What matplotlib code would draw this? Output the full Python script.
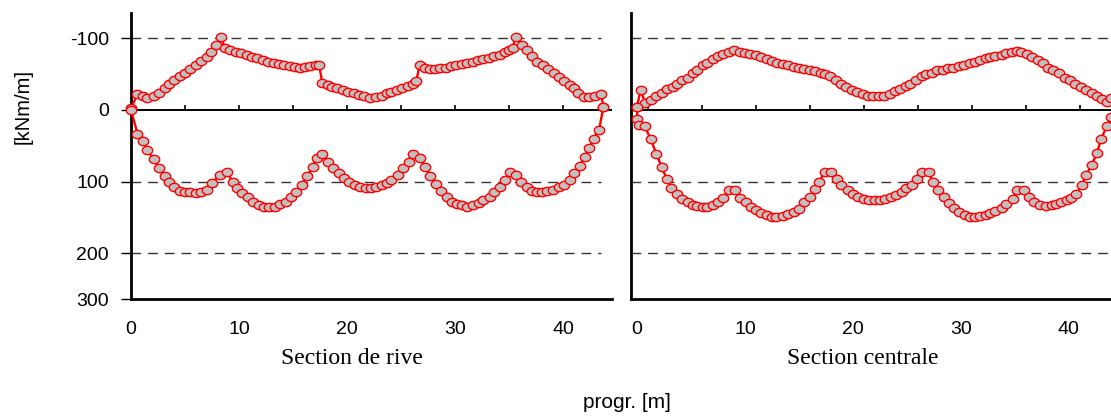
import matplotlib
matplotlib.use("Agg")
import numpy as np
import matplotlib.pyplot as plt

# --- Section de rive (left panel) ---
rive_top_x = [0.0, 0.6, 1.1, 1.5, 2.1, 2.6, 3.1, 3.5, 4.0, 4.5, 5.0, 5.5, 6.0, 6.5, 7.0, 7.4, 7.9, 8.3,
              8.7, 9.2, 9.7, 10.2, 10.7, 11.2, 11.7, 12.2, 12.7, 13.2, 13.7, 14.2, 14.7, 15.2, 15.6, 16.1,
              16.6, 17.1, 17.4, 17.7, 18.2, 18.6, 19.1, 19.6, 20.1, 20.6, 21.1, 21.6, 22.1, 22.7, 23.2,
              23.7, 24.1, 24.6, 25.1, 25.6, 26.1, 26.4, 26.7, 27.2, 27.7, 28.1, 28.6, 29.1, 29.6, 30.1,
              30.6, 31.1, 31.6, 32.1, 32.6, 33.1, 33.6, 34.1, 34.6, 35.0, 35.3, 35.6, 36.2, 36.6, 37.1,
              37.6, 38.1, 38.6, 39.1, 39.6, 40.1, 40.6, 41.0, 41.4, 41.9, 42.4, 42.9, 43.5, 43.7]
rive_top_y = [-2, -22, -19, -16, -20, -24, -30, -36, -41, -47, -52, -57, -62, -68, -74, -81, -90, -102,
              -86, -84, -81, -79, -77, -74, -72, -70, -67, -65, -64, -62, -61, -60, -59, -60,
              -61, -63, -63, -37, -35, -32, -30, -27, -25, -23, -21, -19, -17, -18, -20,
              -23, -25, -28, -30, -33, -36, -40, -63, -58, -57, -57, -58, -59, -61, -62,
              -64, -65, -67, -69, -71, -72, -75, -77, -80, -83, -86, -102, -91, -84, -75,
              -67, -63, -57, -51, -46, -40, -35, -30, -24, -18, -18, -19, -22, -4]

rive_bot_x = [0.0, 0.6, 1.1, 1.5, 2.1, 2.6, 3.1, 3.5, 4.0, 4.5, 5.0, 5.5, 6.0, 6.5, 7.0, 7.5, 8.2, 8.9,
              9.4, 9.8, 10.3, 10.8, 11.3, 11.8, 12.3, 12.8, 13.3, 13.8, 14.3, 14.8, 15.3, 15.8, 16.3,
              16.8, 17.2, 17.7, 18.2, 18.7, 19.2, 19.7, 20.2, 20.7, 21.2, 21.7, 22.2, 22.7, 23.2, 23.7,
              24.1, 24.7, 25.2, 25.7, 26.1, 26.7, 27.2, 27.7, 28.2, 28.7, 29.2, 29.7, 30.2, 30.6, 31.1,
              31.6, 32.2, 32.6, 33.2, 33.6, 34.1, 34.6, 35.1, 35.6, 36.1, 36.6, 37.1, 37.6, 38.0, 38.5,
              39.0, 39.6, 40.1, 40.6, 41.0, 41.5, 42.0, 42.4, 42.8, 43.3, 43.7]
rive_bot_y = [0, 33, 44, 56, 69, 81, 92, 101, 108, 113, 114, 115, 116, 115, 111, 102, 91, 87,
              100, 109, 116, 122, 128, 133, 135, 135, 135, 131, 128, 121, 114, 105, 92,
              80, 67, 62, 72, 81, 88, 95, 101, 105, 107, 109, 109, 107, 105, 102,
              98, 91, 81, 72, 61, 67, 79, 92, 103, 113, 121, 128, 131, 133, 135,
              133, 130, 126, 121, 115, 107, 98, 87, 91, 100, 107, 113, 114, 114, 113,
              112, 107, 105, 98, 88, 78, 65, 53, 40, 28, -4]

# --- Section centrale (right panel) ---
cent_top_x = [0.0, 0.34, 0.74, 1.27, 1.76, 2.29, 2.75, 3.3, 3.7, 4.2, 4.7, 5.2, 5.6, 6.1, 6.5, 7.0, 7.5,
              8.0, 8.5, 9.0, 9.5, 10.0, 10.5, 11.0, 11.5, 12.0, 12.5, 13.0, 13.5, 14.0, 14.5, 15.0,
              15.5, 16.0, 16.5, 17.0, 17.4, 17.9, 18.4, 18.9, 19.4, 19.9, 20.4, 20.9, 21.4, 21.9,
              22.4, 22.9, 23.4, 23.9, 24.4, 24.9, 25.3, 25.8, 26.4, 26.8, 27.3, 27.8, 28.3, 28.8,
              29.3, 29.8, 30.3, 30.8, 31.3, 31.8, 32.3, 32.7, 33.2, 33.8, 34.2, 34.7, 35.2, 35.6,
              36.1, 36.6, 37.1, 37.6, 38.1, 38.5, 39.1, 39.6, 40.1, 40.6, 41.1, 41.6, 42.1, 42.6,
              43.1, 43.5, 43.9]
cent_top_y = [-4, -28, -10, -14, -20, -24, -29, -32, -36, -41, -45, -52, -56, -62, -65, -71, -75,
              -78, -80, -83, -81, -79, -78, -76, -73, -71, -68, -66, -64, -63, -60, -58,
              -57, -56, -54, -52, -50, -47, -41, -36, -32, -28, -25, -22, -20, -19,
              -19, -20, -22, -26, -29, -33, -36, -41, -47, -50, -52, -55, -56, -58,
              -59, -61, -63, -65, -67, -70, -72, -73, -75, -77, -79, -80, -82, -80,
              -78, -73, -69, -65, -59, -56, -52, -45, -42, -36, -32, -28, -23, -20,
              -15, -11, -16]

cent_bot_x = [0.0, 0.05, 0.2, 0.74, 1.27, 1.8, 2.3, 2.75, 3.2, 3.7, 4.2, 4.7, 5.2, 5.6, 6.1, 6.5, 7.07,
              7.5, 8.0, 8.5, 9.1, 9.5, 10.1, 10.6, 11.0, 11.5, 12.0, 12.5, 12.9, 13.5, 14.0, 14.5,
              15.0, 15.5, 16.0, 16.5, 16.9, 17.4, 18.0, 18.5, 18.9, 19.5, 20.0, 20.5, 21.0, 21.5,
              22.0, 22.5, 23.0, 23.5, 24.0, 24.5, 24.9, 25.5, 25.9, 26.4, 27.0, 27.4, 27.9, 28.4,
              28.9, 29.4, 29.8, 30.4, 30.8, 31.3, 31.8, 32.3, 32.7, 33.2, 33.8, 34.2, 34.8, 35.2,
              35.8, 36.3, 36.8, 37.3, 37.9, 38.4, 38.8, 39.3, 39.8, 40.2, 40.7, 41.2, 41.6, 42.1,
              42.6, 43.0, 43.5, 43.9]
cent_bot_y = [-4, 13, 21, 23, 41, 61, 80, 96, 109, 117, 124, 129, 132, 134, 135, 135, 133,
              129, 123, 112, 112, 123, 129, 135, 140, 144, 147, 149, 149, 148, 145, 142,
              138, 129, 122, 110, 100, 86, 86, 96, 105, 111, 117, 122, 124, 125,
              125, 125, 124, 122, 118, 115, 109, 105, 96, 87, 87, 100, 112, 122,
              130, 137, 142, 147, 149, 149, 148, 147, 144, 141, 137, 131, 124, 112,
              112, 122, 129, 133, 134, 133, 131, 129, 126, 123, 117, 105, 91, 77,
              60, 40, 23, 10]

x_ticks = [0, 10, 20, 30, 40]
y_ticks = [-100, 0, 100, 200, 263.6]
y_tick_labels = ["-100", "0", "100", "200", "300"]
zero_marks_rive = [5, 10, 15, 20, 25, 30, 35, 40]
zero_marks_cent = [1, 6, 11, 16, 21, 26, 31, 36, 41]

# slightly wide oval marker, like the stretched original
t = np.linspace(0, 2 * np.pi, 41)
oval = list(zip(1.25 * np.cos(t), np.sin(t)))

W, H = 1111, 417
fig = plt.figure(figsize=(W / 100, H / 100), dpi=100)

ax1 = fig.add_axes([131 / W, 118 / H, 481 / W, 286 / H])
ax2 = fig.add_axes([631 / W, 118 / H, 480 / W, 286 / H])

panels = [
    (ax1, rive_top_x, rive_top_y, rive_bot_x, rive_bot_y, (0, 44.5), zero_marks_rive, 43.5),
    (ax2, cent_top_x, cent_top_y, cent_bot_x, cent_bot_y, (-0.55, 43.9), zero_marks_cent, 43.9),
]

for ax, tx, ty, bx, by, xlim, marks, dash_end in panels:
    ax.set_xlim(*xlim)
    ax.set_ylim(263.6, -135)
    for g in [-100, 100, 200]:
        ax.plot([xlim[0], dash_end], [g, g], color="#333333", lw=1.0,
                dashes=(7, 5), zorder=1)
    ax.axhline(0, color="black", lw=1.4, zorder=1)
    ax.vlines(marks, 0, -7, color="black", lw=1.2, zorder=1)
    for xs, ys in [(tx, ty), (bx, by)]:
        ax.plot(xs, ys, color="red", lw=1.7, marker=oval, markersize=7.5,
                markerfacecolor="#c0c0c0", markeredgecolor="red",
                markeredgewidth=1.0, clip_on=False, zorder=3)
    for s in ["top", "right"]:
        ax.spines[s].set_visible(False)
    ax.spines["left"].set_linewidth(2)
    ax.spines["bottom"].set_linewidth(2)
    ax.set_xticks(x_ticks)
    ax.tick_params(axis="x", length=0, pad=16, labelsize=14)
    for lab in ax.get_xticklabels():
        lab.set_family("Liberation Sans")

ax1.set_yticks(y_ticks)
ax1.set_yticklabels(y_tick_labels, family="Liberation Sans", fontsize=14)
ax1.tick_params(axis="y", length=7, width=1.0, pad=9)
ax2.set_yticks([])

fig.text(23 / W, 1 - 107 / H, "[kNm/m]", rotation=90, ha="center", va="center",
         family="Liberation Sans", fontsize=14.5)
fig.text(352 / W, 1 - 358 / H, "Section de rive", ha="center", va="center",
         family="Liberation Serif", fontsize=17)
fig.text(863 / W, 1 - 358 / H, "Section centrale", ha="center", va="center",
         family="Liberation Serif", fontsize=17)
fig.text(627 / W, 1 - 402 / H, "progr. [m]", ha="center", va="center",
         family="Liberation Sans", fontsize=15)

fig.savefig("out.png", dpi=100)
